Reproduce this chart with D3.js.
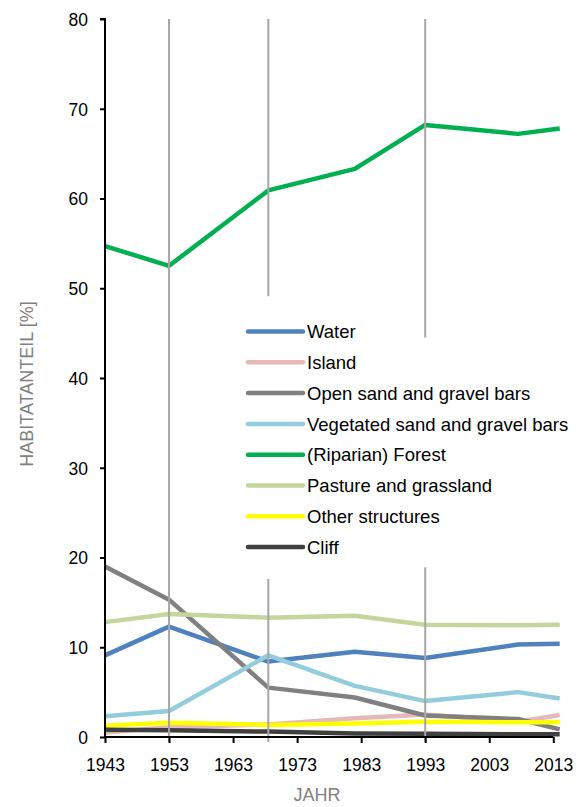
<!DOCTYPE html>
<html lang="de">
<head>
    <meta charset="UTF-8">
    <title>Habitatanteil</title>
    <script src="https://d3js.org/d3.v7.min.js"></script>
    <style>
        body { margin: 0; background: #fff; }
        text { font-family: "Liberation Sans", Arial, sans-serif; }
        .axis-title { fill: #7f7f7f; font-size: 18px; }
        .tick-label { fill: #000; font-size: 17.5px; }
        .legend text { fill: #000; font-size: 18.5px; }
    </style>
</head>
<body>
    <svg width="586" height="807"></svg>

    <script>
        // years of the survey
        const years = [1943, 1953, 1968.5, 1982, 1993, 2007.5, 2014];

        const seriesNames = ["Water", "Island", "Open sand and gravel bars", "Vegetated sand and gravel bars",
            "(Riparian) Forest", "Pasture and grassland", "Other structures", "Cliff"];
        const seriesColors = ["#4f81bd", "#e6b9b8", "#808080", "#93cddd", "#00b050", "#c3d69b", "#ffff00", "#404040"];

        const water     = [9.1, 12.3, 8.4, 9.5, 8.8, 10.3, 10.4];
        const island    = [0.5, 1.1, 1.4, 2.1, 2.5, 1.7, 2.45];
        const openSand  = [19.0, 15.3, 5.5, 4.4, 2.4, 2.0, 0.85];
        const vegSand   = [2.3, 2.9, 9.1, 5.7, 4.0, 5.0, 4.3];
        const forest    = [54.7, 52.5, 60.9, 63.3, 68.2, 67.2, 67.8];
        const pasture   = [12.8, 13.7, 13.3, 13.5, 12.5, 12.45, 12.5];
        const otherStr  = [1.25, 1.6, 1.35, 1.5, 1.7, 1.65, 1.65];
        const cliff     = [0.8, 0.75, 0.6, 0.4, 0.35, 0.3, 0.3];
        const seriesValues = [water, island, openSand, vegSand, forest, pasture, otherStr, cliff];

        // vertical marker lines: year and the y spans [from, to] they cover
        const markerYears = [1953, 1968.5, 1993];
        const markerSpans = [[[0, 80]], [[0, 17.6], [49.1, 80]], [[0, 18.9], [44.5, 80]]];

        const xTicks = [1943, 1953, 1963, 1973, 1983, 1993, 2003, 2013];
        const yTicks = [0, 10, 20, 30, 40, 50, 60, 70, 80];

        const svg = d3.select("svg");
        const x = d3.scaleLinear().domain([1943, 2013]).range([105, 553.3]);
        const y = d3.scaleLinear().domain([0, 80]).range([737, 19]);

        const line = d3.line()
            .x((d, i) => x(years[i]))
            .y(d => y(d));

        // data lines
        svg.append("g")
            .selectAll("path")
            .data(seriesValues)
            .enter().append("path")
            .attr("d", d => line(d))
            .attr("fill", "none")
            .attr("stroke", (d, i) => seriesColors[i])
            .attr("stroke-width", 4.5)
            .attr("stroke-linejoin", "round");

        // vertical gray marker lines
        const markers = [];
        markerYears.forEach((yr, i) => {
            markerSpans[i].forEach(s => markers.push({ yr: yr, from: s[0], to: s[1] }));
        });
        svg.append("g")
            .selectAll("line")
            .data(markers)
            .enter().append("line")
            .attr("x1", d => x(d.yr))
            .attr("x2", d => x(d.yr))
            .attr("y1", d => d.from === 0 ? y(0) + 5 : y(d.from))
            .attr("y2", d => y(d.to))
            .attr("stroke", "#a6a6a6")
            .attr("stroke-width", 2);

        // y axis
        const yAxis = svg.append("g")
            .attr("transform", `translate(${x(1943)},0)`)
            .call(d3.axisLeft(y).tickValues(yTicks).tickSize(5).tickPadding(12));
        yAxis.select(".domain").attr("stroke", "#000").attr("stroke-width", 2)
            .attr("d", `M-5,${y(80)}H0V${y(0)}`);
        yAxis.selectAll(".tick line").attr("stroke", "#000").attr("stroke-width", 2);
        yAxis.selectAll(".tick text").attr("class", "tick-label").attr("font-size", null)
            .attr("font-family", null).attr("dy", "0.36em");

        // x axis
        const xAxis = svg.append("g")
            .attr("transform", `translate(0,${y(0)})`)
            .call(d3.axisBottom(x).tickValues(xTicks).tickFormat(d3.format("d")).tickSize(6).tickPadding(16));
        xAxis.select(".domain").attr("stroke", "#000").attr("stroke-width", 2)
            .attr("d", `M${x(1943)},0H${x(2013)}`);
        xAxis.selectAll(".tick line").attr("stroke", "#000").attr("stroke-width", 2);
        xAxis.selectAll(".tick text").attr("class", "tick-label").attr("font-size", null)
            .attr("font-family", null);

        // axis titles
        svg.append("text")
            .attr("class", "axis-title")
            .attr("text-anchor", "middle")
            .attr("transform", "translate(33,384) rotate(-90)")
            .text("HABITATANTEIL [%]");
        svg.append("text")
            .attr("class", "axis-title")
            .attr("text-anchor", "middle")
            .attr("x", 317)
            .attr("y", 801)
            .text("JAHR");

        // legend
        const legend = svg.append("g").attr("class", "legend");
        const item = legend.selectAll("g")
            .data(seriesNames)
            .enter().append("g")
            .attr("transform", (d, i) => `translate(248,${331.5 + i * 30.8})`);
        item.append("line")
            .attr("x1", 0).attr("x2", 55)
            .attr("stroke", (d, i) => seriesColors[i])
            .attr("stroke-width", 4.5)
            .attr("stroke-linecap", "round");
        item.append("text")
            .attr("x", 59)
            .attr("dy", "0.36em")
            .text(d => d);
    </script>
</body>
</html>
